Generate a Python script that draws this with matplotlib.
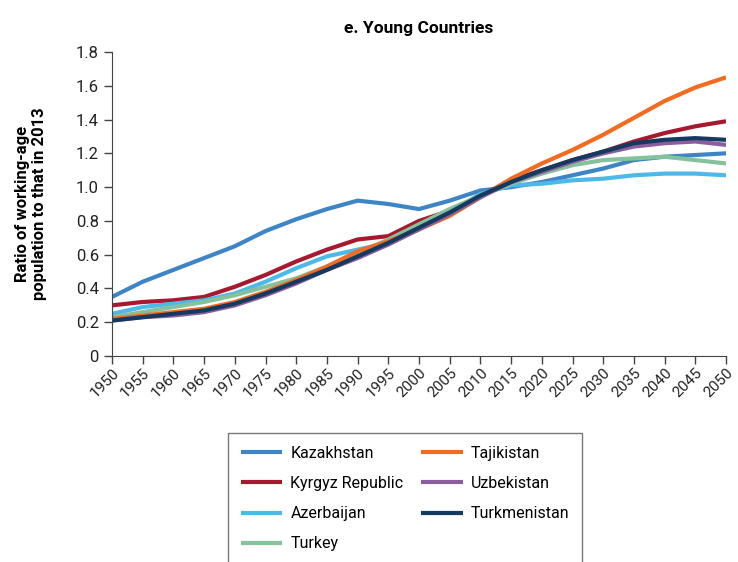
import matplotlib
matplotlib.use('Agg')
import matplotlib.pyplot as plt
import numpy as np

plt.rcParams['font.family'] = ['Liberation Sans Narrow', 'Roboto', 'DejaVu Sans']

YEARS = list(range(1950, 2051, 5))

KAZAKHSTAN = [0.35, 0.44, 0.51, 0.58, 0.65, 0.74, 0.81, 0.87, 0.92, 0.90, 0.87,
              0.92, 0.98, 1.00, 1.03, 1.07, 1.11, 1.16, 1.18, 1.19, 1.20]
KYRGYZ = [0.30, 0.32, 0.33, 0.35, 0.41, 0.48, 0.56, 0.63, 0.69, 0.71, 0.80,
          0.86, 0.95, 1.04, 1.10, 1.16, 1.21, 1.27, 1.32, 1.36, 1.39]
AZERBAIJAN = [0.25, 0.29, 0.31, 0.33, 0.37, 0.44, 0.52, 0.59, 0.63, 0.67, 0.75,
              0.85, 0.96, 1.01, 1.02, 1.04, 1.05, 1.07, 1.08, 1.08, 1.07]
TURKEY = [0.23, 0.26, 0.29, 0.32, 0.36, 0.41, 0.46, 0.53, 0.61, 0.69, 0.78,
          0.87, 0.95, 1.02, 1.08, 1.13, 1.16, 1.17, 1.18, 1.16, 1.14]
TAJIKISTAN = [0.22, 0.24, 0.26, 0.28, 0.32, 0.38, 0.45, 0.53, 0.62, 0.68, 0.75,
              0.83, 0.94, 1.05, 1.14, 1.22, 1.31, 1.41, 1.51, 1.59, 1.65]
UZBEKISTAN = [0.21, 0.23, 0.24, 0.26, 0.30, 0.36, 0.43, 0.51, 0.58, 0.66, 0.75,
              0.84, 0.94, 1.03, 1.09, 1.15, 1.20, 1.24, 1.26, 1.27, 1.25]
TURKMENISTAN = [0.21, 0.23, 0.25, 0.27, 0.31, 0.37, 0.44, 0.51, 0.59, 0.67, 0.76,
                0.85, 0.95, 1.03, 1.10, 1.16, 1.21, 1.26, 1.28, 1.29, 1.28]

SERIES = [
    ('Kazakhstan', KAZAKHSTAN, '#3d85c6'),
    ('Kyrgyz Republic', KYRGYZ, '#a6192e'),
    ('Azerbaijan', AZERBAIJAN, '#4db8ea'),
    ('Turkey', TURKEY, '#85c29b'),
    ('Tajikistan', TAJIKISTAN, '#f26b21'),
    ('Uzbekistan', UZBEKISTAN, '#8c5e9f'),
    ('Turkmenistan', TURKMENISTAN, '#143a60'),
]

Y_TICKS = [0, 0.2, 0.4, 0.6, 0.8, 1.0, 1.2, 1.4, 1.6, 1.8]
Y_LABELS = ['0', '0.2', '0.4', '0.6', '0.8', '1.0', '1.2', '1.4', '1.6', '1.8']

fig = plt.figure(figsize=(7.38, 5.62), dpi=100)
fig.patch.set_facecolor('white')
ax = fig.add_axes([0.1518, 0.3665, 0.832, 0.541])

for name, vals, col in SERIES:
    ax.plot(YEARS, vals, color=col, linewidth=3.0, label=name,
            solid_joinstyle='round', solid_capstyle='butt')

ax.set_xlim(1950, 2050)
ax.set_ylim(0, 1.8)
ax.set_xticks(YEARS)
ax.set_xticklabels([str(y) for y in YEARS], rotation=45, ha='right', va='top',
                   rotation_mode='anchor', fontsize=11, color='#222')
ax.set_yticks(Y_TICKS)
ax.set_yticklabels(Y_LABELS, fontsize=12, color='#222')
ax.tick_params(axis='both', length=6, width=1, color='#444')
ax.tick_params(axis='x', pad=1)
for s in ['top', 'right']:
    ax.spines[s].set_visible(False)
for s in ['left', 'bottom']:
    ax.spines[s].set_color('#444')

ax.set_title('e. Young Countries', fontsize=12.5, fontweight='bold', pad=14)
fig.text(0.042, 0.637, 'Ratio of working-age\npopulation to that in 2013',
         rotation=90, ha='center', va='center', fontsize=12,
         fontweight='bold', linespacing=1.15)

leg = fig.legend(loc='upper left', bbox_to_anchor=(0.309, 0.2295), ncol=2,
                 fontsize=11.5, frameon=True, fancybox=False, handlelength=2.6,
                 labelspacing=0.95, columnspacing=1.1, borderpad=0.8,
                 handletextpad=0.5, borderaxespad=0.0)
leg.get_frame().set_edgecolor('#555')
leg.get_frame().set_linewidth(1.0)

fig.savefig('out.png', dpi=100, facecolor='white')
